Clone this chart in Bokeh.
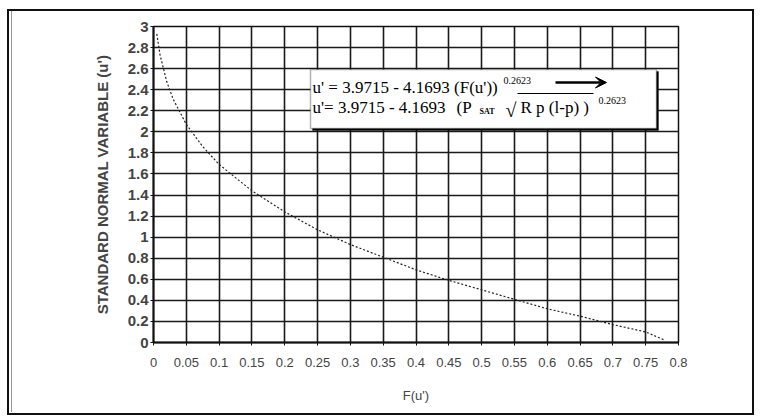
from bokeh.plotting import figure
from bokeh.models import (FixedTicker, BoxAnnotation, Label, Arrow, VeeHead, Range1d,
                          InlineStyleSheet)
from bokeh.embed import file_html
from bokeh.resources import INLINE

# Data
F_vals = [0.005, 0.01, 0.02, 0.03, 0.05, 0.075, 0.1, 0.15, 0.2, 0.25, 0.3,
          0.35, 0.4, 0.45, 0.5, 0.55, 0.6, 0.65, 0.7, 0.75, 0.78]
u_vals = [2.93, 2.73, 2.48, 2.31, 2.07, 1.86, 1.69, 1.44, 1.24, 1.07, 0.93,
          0.81, 0.69, 0.59, 0.50, 0.41, 0.32, 0.25, 0.17, 0.10, 0.02]

x_ticks = [0, 0.05, 0.1, 0.15, 0.2, 0.25, 0.3, 0.35, 0.4, 0.45, 0.5, 0.55,
           0.6, 0.65, 0.7, 0.75, 0.8]
x_tick_labels = ["0", "0.05", "0.1", "0.15", "0.2", "0.25", "0.3", "0.35", "0.4",
                 "0.45", "0.5", "0.55", "0.6", "0.65", "0.7", "0.75", "0.8"]
y_ticks = [0, 0.2, 0.4, 0.6, 0.8, 1, 1.2, 1.4, 1.6, 1.8, 2, 2.2, 2.4, 2.6, 2.8, 3]
y_tick_labels = ["0", "0.2", "0.4", "0.6", "0.8", "1", "1.2", "1.4", "1.6", "1.8",
                 "2", "2.2", "2.4", "2.6", "2.8", "3"]

W, H = 761, 416
L, R, T, B = 153, 83, 26, 74

frame_css = InlineStyleSheet(css="""
:host { position: relative; }
:host::after {
  content: ""; position: absolute; left: 7px; top: 9px; width: 743px; height: 402px;
  border: 2px solid #111; pointer-events: none; box-sizing: content-box;
}
:host::before {
  content: ""; position: absolute; left: 11px; top: 11px; width: 1px; height: 401px;
  background: #9a9a9a; pointer-events: none; z-index: 5;
}
""")

p = figure(width=W, height=H, output_backend="svg", toolbar_location=None,
           x_range=Range1d(0, 0.8), y_range=Range1d(0, 3),
           min_border_left=L, min_border_right=R, min_border_top=T, min_border_bottom=B)
p.stylesheets = [frame_css]
p.background_fill_color = "white"
p.border_fill_color = "white"
p.outline_line_color = "#111111"
p.outline_line_width = 1.5

p.xaxis.ticker = FixedTicker(ticks=x_ticks)
p.yaxis.ticker = FixedTicker(ticks=y_ticks)
p.xaxis.major_label_overrides = {t: s for t, s in zip(x_ticks, x_tick_labels)}
p.yaxis.major_label_overrides = {t: s for t, s in zip(y_ticks, y_tick_labels)}

for ax in (p.xaxis, p.yaxis):
    ax.axis_line_color = "#111111"
    ax.axis_line_width = 2
    ax.major_tick_line_color = "#111111"
    ax.major_tick_in = 0
    ax.major_tick_out = 3
    ax.minor_tick_line_color = None

p.xaxis.major_label_text_font = "Liberation Sans"
p.xaxis.major_label_text_font_size = "13px"
p.xaxis.major_label_standoff = 12
p.xaxis.axis_label = "F(u')"
p.xaxis.axis_label_text_font = "Liberation Sans"
p.xaxis.axis_label_text_font_size = "13px"
p.xaxis.axis_label_text_font_style = "normal"
p.xaxis.axis_label_standoff = 18

p.yaxis.major_label_text_font = "Liberation Sans"
p.yaxis.major_label_text_font_size = "15px"
p.yaxis.major_label_text_font_style = "bold"
p.yaxis.major_label_standoff = 2
p.yaxis.axis_label = "STANDARD NORMAL VARIABLE (u')"
p.yaxis.axis_label_text_font = "Liberation Sans"
p.yaxis.axis_label_text_font_size = "15px"
p.yaxis.axis_label_text_font_style = "bold"
p.yaxis.axis_label_standoff = 14

p.grid.grid_line_color = "#1a1a1a"
p.grid.grid_line_width = 1.6

p.line(F_vals, u_vals, line_color="#222222", line_width=1.2, line_dash="2 2")

# pixel -> data helpers for annotation placement
def fx(px):
    return (px - L) * 0.8 / (W - L - R)

def fy(py):
    return (H - B - py) * 3.0 / (H - T - B)

# equation box with shadow
p.add_layout(BoxAnnotation(left=fx(312), right=fx(658), top=fy(71), bottom=fy(130),
                           fill_color="black", fill_alpha=1, line_color="black",
                           level="overlay"))
p.add_layout(BoxAnnotation(left=fx(310), right=fx(656), top=fy(69), bottom=fy(128),
                           fill_color="white", fill_alpha=1, line_color="black",
                           line_width=1.5, level="overlay"))

serif = "Liberation Serif"

def lab(px, py, text, size, style="normal"):
    p.add_layout(Label(x=fx(px), y=fy(py), text=text, text_font=serif,
                       text_font_size=size, text_color="black",
                       text_font_style=style,
                       text_align="left", text_baseline="alphabetic",
                       level="overlay"))

lab(312, 87, "u' = 3.9715 - 4.1693 (F(u'))", "17px")
lab(503, 80, "0.2623", "10px")
p.add_layout(Arrow(x_start=fx(555), y_start=fy(82), x_end=fx(606), y_end=fy(82),
                   line_color="black", line_width=2.5,
                   end=VeeHead(size=11, fill_color="black", line_color="black"),
                   level="overlay"))

lab(312, 107, "u'= 3.9715 - 4.1693", "17px")
lab(456, 107, "(P", "17px")
lab(479, 111, "SAT", "8px", "bold")
lab(505, 109, "\u221a", "20px")
p.add_layout(Arrow(x_start=fx(517), y_start=fy(93), x_end=fx(593), y_end=fy(93),
                   line_color="black", line_width=1, end=None, level="overlay"))
lab(520, 107, "R p (l-p) )", "17px")
lab(598, 100, "0.2623", "10px")

open("out.html", "w").write(file_html(p, INLINE))
